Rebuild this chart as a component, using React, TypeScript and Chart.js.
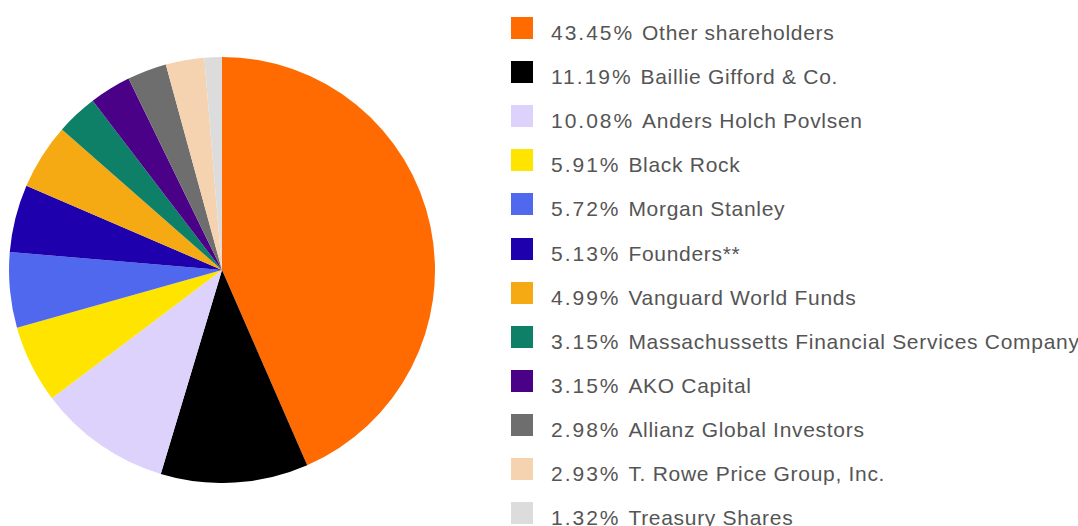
import React, { useEffect, useRef } from "react";
import { Chart, registerables } from "chart.js";

Chart.register(...registerables);

const labels: string[] = [
  "Other shareholders",
  "Baillie Gifford & Co.",
  "Anders Holch Povlsen",
  "Black Rock",
  "Morgan Stanley",
  "Founders**",
  "Vanguard World Funds",
  "Massachussetts Financial Services Company",
  "AKO Capital",
  "Allianz Global Investors",
  "T. Rowe Price Group, Inc.",
  "Treasury Shares",
];

const shares: number[] = [43.45, 11.19, 10.08, 5.91, 5.72, 5.13, 4.99, 3.15, 3.15, 2.98, 2.93, 1.32];

const colors: string[] = [
  "#FF6B00",
  "#000000",
  "#DCD2FC",
  "#FFE400",
  "#5068EE",
  "#1F00AD",
  "#F5A912",
  "#0E8068",
  "#4B0088",
  "#6E6E6E",
  "#F5D3B0",
  "#DCDCDC",
];

const FONT = "'Liberation Sans', Arial, Helvetica, sans-serif";

export default function App() {
  const canvasRef = useRef<HTMLCanvasElement | null>(null);

  useEffect(() => {
    if (!canvasRef.current) return;
    const chart = new Chart(canvasRef.current, {
      type: "pie",
      data: {
        labels,
        datasets: [
          {
            data: shares,
            backgroundColor: colors,
            borderWidth: 0,
          },
        ],
      },
      options: {
        responsive: false,
        animation: false,
        layout: { padding: 0 },
        plugins: {
          legend: { display: false },
          tooltip: { enabled: false },
        },
      },
    });
    return () => chart.destroy();
  }, []);

  return (
    <div
      style={{
        position: "absolute",
        left: 0,
        top: 0,
        width: 1078,
        height: 526,
        overflow: "hidden",
        background: "#fff",
      }}
    >
      <canvas
        ref={canvasRef}
        width={426}
        height={426}
        style={{ position: "absolute", left: 9, top: 57, width: 426, height: 426 }}
      />
      {labels.map((label, i) => {
        const top = 17 + i * 44.1;
        return (
          <React.Fragment key={label}>
            <div
              style={{
                position: "absolute",
                left: 511,
                top,
                width: 22,
                height: 22,
                background: colors[i],
              }}
            />
            <div
              style={{
                position: "absolute",
                left: 551,
                top: top + 5,
                fontFamily: FONT,
                fontSize: 21,
                lineHeight: "21px",
                color: "#555555",
                whiteSpace: "nowrap",
              }}
            >
              <span style={{ letterSpacing: "2px" }}>{shares[i].toFixed(2) + "% "}</span>
              <span style={{ letterSpacing: "0.7px" }}>{label}</span>
            </div>
          </React.Fragment>
        );
      })}
    </div>
  );
}
